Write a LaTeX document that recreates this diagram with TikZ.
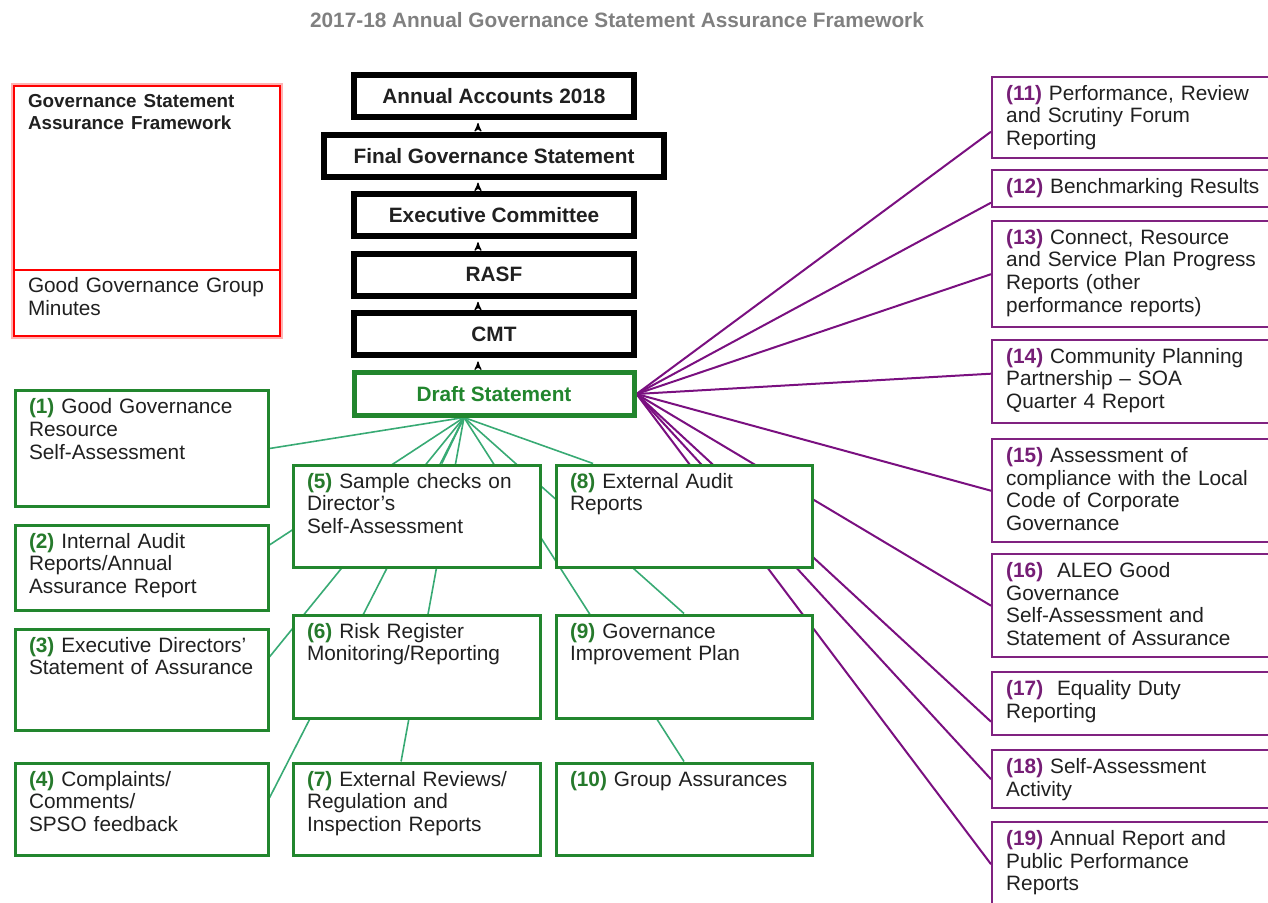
\documentclass[tikz,border=0pt]{standalone}
\usepackage{xcolor}
\usepackage{fontspec}
\setmainfont{Liberation Sans}
\usepackage{tikz}
\usetikzlibrary{shapes.multipart,arrows,positioning,backgrounds}

\definecolor{boxgreen}{RGB}{34,134,46}
\definecolor{linkgreen}{RGB}{56,170,116}
\definecolor{numgreen}{RGB}{38,122,44}
\definecolor{boxpurple}{RGB}{128,34,128}
\definecolor{linkpurple}{RGB}{122,16,128}
\definecolor{numpurple}{RGB}{118,30,118}
\definecolor{titlegray}{RGB}{128,128,128}
\definecolor{ink}{RGB}{32,32,32}
\newcommand{\gn}[1]{\textcolor{numgreen}{\textbf{(#1)}}}
\newcommand{\pn}[1]{\textcolor{numpurple}{\textbf{(#1)}}}

\begin{document}
\begin{tikzpicture}[x=0.5pt,y=-0.5pt,>=stealth',node distance=29.8pt,on grid,
    font=\fontsize{10.4}{11.4}\selectfont,
    stage/.style={draw,line width=3pt,fill=white,text=ink,minimum width=140pt,
      minimum height=21pt,inner sep=0pt,font=\fontsize{10.4}{11.4}\selectfont\bfseries},
    gbox/.style={draw=boxgreen,line width=1.5pt,fill=white,text=ink,anchor=north west,
      align=left,inner xsep=7pt,inner ysep=3.5pt,text height=8pt},
    lbox/.style={gbox,text width=112.5pt},
    mbox/.style={gbox,text width=109.5pt},
    rbox/.style={gbox,text width=114pt},
    pbox/.style={draw=boxpurple,line width=1.2pt,fill=white,text=ink,anchor=north west,
      align=left,inner xsep=7pt,inner ysep=3.5pt,text height=8pt,text width=136pt},
    glink/.style={draw=linkgreen,line width=0.8pt},
    plink/.style={draw=linkpurple,line width=1pt}]
    \useasboundingbox (0,0) rectangle (1268,903);
    \clip (0,0) rectangle (1268,903);
    %% node
    \node (title) at (617,20) [text=titlegray,font=\fontsize{10.4}{12}\selectfont\bfseries]
      {2017-18 Annual Governance Statement Assurance Framework};
    \node (gsaf) [draw=red,line width=1pt,preaction={draw=red!30,line width=3pt},fill=white,
      text=ink,anchor=north west,rectangle split,rectangle split parts=2,text width=119pt,
      align=left,inner xsep=7pt,inner ysep=3.5pt] at (13,85)
      {
        \fontsize{9.4}{10.5}\selectfont\bfseries Governance Statement\\
        Assurance Framework\rule[-66pt]{0pt}{0pt}
        \nodepart{two}
        Good Governance Group\\
        Minutes\rule[-6pt]{0pt}{0pt}
      }; % two parts
    \node (acc) [stage] at (494,96) {Annual Accounts 2018};
    \node (fgs) [stage,below of=acc,minimum width=170pt] {Final Governance Statement};
    \node (exec) [stage,below of=fgs] {Executive Committee};
    \node (rasf) [stage,below of=exec] {RASF};
    \node (cmt) [stage,below of=rasf] {CMT};
    \node (draft) [stage,below of=cmt,draw=boxgreen,line width=2.5pt,text=boxgreen]
      {Draft Statement};
    \coordinate (hub) at ([xshift=-15pt]draft.south); % green fan point

    % left and middle sources
    \node (g1) [lbox,text depth=42.5pt] at (13.5,389.5)
      {\gn{1} Good Governance\\Resource\\Self-Assessment};
    \node (g2) [lbox,text depth=27.5pt] at (13.5,523.5)
      {\gn{2} Internal Audit\\Reports/Annual\\Assurance Report};
    \node (g3) [lbox,text depth=35.5pt] at (13.5,627.5)
      {\gn{3} Executive Directors'\\Statement of Assurance};
    \node (g4) [lbox,text depth=31pt] at (13.5,761.5)
      {\gn{4} Complaints/\\Comments/\\SPSO feedback};
    \node (g5) [mbox,text depth=36pt] at (291.5,463.5)
      {\gn{5} Sample checks on\\Director's\\Self-Assessment};
    \node (g6) [mbox,text depth=36.5pt] at (291.5,613.5)
      {\gn{6} Risk Register\\Monitoring/Reporting};
    \node (g7) [mbox,text depth=31pt] at (291.5,761.5)
      {\gn{7} External Reviews/\\Regulation and\\Inspection Reports};
    \node (g8) [rbox,text depth=36pt] at (554.5,463.5)
      {\gn{8} External Audit\\Reports};
    \node (g9) [rbox,text depth=36.5pt] at (554.5,613.5)
      {\gn{9} Governance\\Improvement Plan};
    \node (g10) [rbox,text depth=31pt] at (554.5,761.5)
      {\gn{10} Group Assurances};

    % right sources
    \node (p11) [pbox,text depth=25.5pt] at (991,76)
      {\pn{11} Performance, Review\\and Scrutiny Forum\\Reporting};
    \node (p12) [pbox,text depth=3.5pt] at (991,169)
      {\pn{12} Benchmarking Results};
    \node (p13) [pbox,text depth=38pt] at (991,220)
      {\pn{13} Connect, Resource\\and Service Plan Progress\\Reports (other\\performance reports)};
    \node (p14) [pbox,text depth=26.5pt] at (991,339)
      {\pn{14} Community Planning\\Partnership -- SOA\\Quarter 4 Report};
    \node (p15) [pbox,text depth=36.5pt] at (991,438)
      {\pn{15} Assessment of\\compliance with the Local\\Code of Corporate\\Governance};
    \node (p16) [pbox,text depth=36.5pt] at (991,553)
      {\pn{16}~ ALEO Good\\Governance\\Self-Assessment and\\Statement of Assurance};
    \node (p17) [pbox,text depth=16.5pt] at (991,671)
      {\pn{17}~ Equality Duty\\Reporting};
    \node (p18) [pbox,text depth=14pt] at (991,749)
      {\pn{18} Self-Assessment\\Activity};
    \node (p19) [pbox,text depth=35pt] at (991,821)
      {\pn{19} Annual Report and\\Public Performance\\Reports};

    %% path
    \path[->,line width=0.6pt,shorten >=1.5pt,shorten <=1.25pt]
      ([xshift=-8pt]draft.north) edge ([xshift=-8pt]cmt.south)
      ([xshift=-8pt]cmt.north)   edge ([xshift=-8pt]rasf.south)
      ([xshift=-8pt]rasf.north)  edge ([xshift=-8pt]exec.south)
      ([xshift=-8pt]exec.north)  edge ([xshift=-8pt]fgs.south)
      ([xshift=-8pt]fgs.north)   edge ([xshift=-8pt]acc.south);
    \begin{pgfonlayer}{background}
      \path[glink]
        (hub) edge (g1.east)
        (hub) edge (g2.10)
        (hub) edge (g3.10)
        (hub) edge (g4.5)
        (hub) edge (g5)
        (hub) edge (g7.108)
        (hub) edge (g8.150)
        (hub) edge (g9.north)
        (hub) edge (g10.north);
      \path[plink]
        (draft.east) edge ([yshift=-7pt]p11.west)
        (draft.east) edge ([yshift=-7pt]p12.west)
        (draft.east) edge (p13.west)
        (draft.east) edge ([yshift=4pt]p14.west)
        (draft.east) edge (p15.west)
        (draft.east) edge (p16.west)
        (draft.east) edge ([yshift=-9pt]p17.west)
        (draft.east) edge (p18.west)
        (draft.east) edge ([yshift=4pt]p19.west);
    \end{pgfonlayer}
\end{tikzpicture}
\end{document}
